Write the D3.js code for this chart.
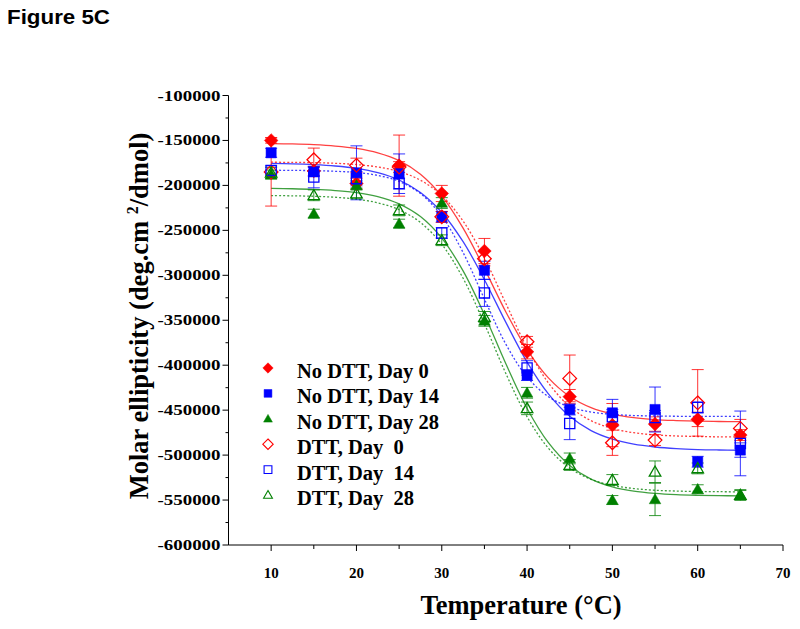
<!DOCTYPE html>
<html><head><meta charset="utf-8">
<script src="https://cdn.jsdelivr.net/npm/d3@7"></script>
<style>html,body{margin:0;padding:0;background:#fff;}svg{display:block;}</style>
</head><body>
<script>
// ---- data ----
const temps = [10, 15, 20, 25, 30, 35, 40, 45, 50, 55, 60, 65];
const noDTTDay0  = [-150000, -184000, -198000, -178000, -209000, -273000, -385000, -435000, -466600, -465500, -460300, -477700];
const noDTTDay0Err = [3000, 5000, 6000, 34000, 9000, 14000, 8000, 8000, 24000, 8000, 8000, 6000];
const noDTTDay14 = [-163700, -185000, -186000, -187000, -235000, -294400, -411000, -449300, -453000, -449300, -507400, -494400];
const noDTTDay14Err = [5000, 5000, 30000, 22000, 6000, 10000, 6000, 6000, 15000, 25000, 6000, 8000];
const noDTTDay28 = [-188000, -231500, -200000, -242600, -219600, -350700, -430700, -503700, -550000, -549300, -538000, -544400];
const noDTTDay28Err = [5000, 5000, 5000, 5000, 6000, 6000, 6000, 6000, 5000, 18000, 5000, 5000];
const dttDay0  = [-185000, -171500, -177700, -179600, -235000, -281500, -374000, -414700, -486300, -483300, -441900, -470300];
const dttDay0Err = [38000, 13000, 8000, 6000, 6000, 8000, 6000, 26000, 14000, 6000, 37000, 10000];
const dttDay14 = [-183300, -190700, -192500, -198000, -253000, -319600, -403000, -464800, -457400, -458300, -447000, -487000];
const dttDay14Err = [5000, 12000, 8000, 6000, 6000, 15000, 8000, 18000, 8000, 8000, 6000, 36000];
const dttDay28 = [-186000, -211000, -209000, -227800, -261000, -346300, -448000, -511000, -527700, -518500, -514800, -544400];
const dttDay28Err = [6000, 6000, 6000, 6000, 6000, 6000, 7000, 6000, 6000, 12000, 6000, 6000];

// fitted curves
const fitTemps = [10, 12.5, 15, 17.5, 20, 22.5, 25, 27.5, 30, 32.5, 35, 37.5, 40, 42.5, 45, 47.5, 50, 52.5, 55, 57.5, 60, 62.5, 65];
const fitNoDTTDay0  = [-153500, -153900, -154700, -156200, -158900, -163800, -172500, -187600, -211900, -247500, -292600, -340500, -382600, -414100, -434800, -447200, -454300, -458300, -460500, -461600, -462300, -462600, -462800];
const fitNoDTTDay14 = [-175600, -176000, -176900, -178400, -181000, -185800, -194000, -207900, -230100, -262600, -304900, -352100, -396500, -431900, -456900, -472800, -482300, -487900, -491000, -492800, -493800, -494300, -494600];
const fitNoDTTDay28 = [-203400, -203700, -204400, -205700, -208000, -212400, -220500, -234700, -258600, -295100, -343800, -398200, -448100, -486200, -511500, -526700, -535300, -540100, -542600, -544000, -544700, -545100, -545300];
const fitDTTDay0  = [-174200, -174400, -174700, -175400, -176800, -179500, -184600, -194200, -211300, -239700, -280900, -331100, -380500, -419700, -446100, -461700, -470400, -475100, -477500, -478700, -479300, -479700, -479800];
const fitDTTDay14 = [-183100, -183300, -183600, -184300, -185700, -188900, -195600, -209100, -234300, -274700, -326400, -376400, -413100, -435000, -446500, -452100, -454700, -456000, -456500, -456800, -456900, -457000, -457000];
const fitDTTDay28 = [-211300, -211600, -212100, -213200, -215300, -219400, -227100, -241200, -265500, -303300, -353900, -409000, -457400, -492400, -514300, -526900, -533700, -537200, -539100, -540000, -540500, -540700, -540900];

const xTicks = [10, 20, 30, 40, 50, 60, 70];
const xMinorTicks = [15, 25, 35, 45, 55, 65];
const yTicks = [-100000, -150000, -200000, -250000, -300000, -350000, -400000, -450000, -500000, -550000, -600000];
const yMinorTicks = [-125000, -175000, -225000, -275000, -325000, -375000, -425000, -475000, -525000, -575000];
const seriesNames = ["No DTT, Day 0", "No DTT, Day 14", "No DTT, Day 28", "DTT, Day\u00a0 0", "DTT, Day\u00a0 14", "DTT, Day\u00a0 28"];

// ---- drawing ----
const W = 800, H = 629;
const svg = d3.select("body").append("svg").attr("width", W).attr("height", H);
const x = d3.scaleLinear().domain([5, 70]).range([228.5, 783]);
const y = d3.scaleLinear().domain([-600000, -100000]).range([545, 95.5]);

const RED = "#ff0000", BLUE = "#0000ff", GREEN = "#008000";
const series = [
  {name: seriesNames[0], vals: noDTTDay0, err: noDTTDay0Err, fit: fitNoDTTDay0, color: RED, shape: "diamond", filled: true, dash: null},
  {name: seriesNames[1], vals: noDTTDay14, err: noDTTDay14Err, fit: fitNoDTTDay14, color: BLUE, shape: "square", filled: true, dash: null},
  {name: seriesNames[2], vals: noDTTDay28, err: noDTTDay28Err, fit: fitNoDTTDay28, color: GREEN, shape: "triangle", filled: true, dash: null},
  {name: seriesNames[3], vals: dttDay0, err: dttDay0Err, fit: fitDTTDay0, color: RED, shape: "diamond", filled: false, dash: "2,2"},
  {name: seriesNames[4], vals: dttDay14, err: dttDay14Err, fit: fitDTTDay14, color: BLUE, shape: "square", filled: false, dash: "2,2"},
  {name: seriesNames[5], vals: dttDay28, err: dttDay28Err, fit: fitDTTDay28, color: GREEN, shape: "triangle", filled: false, dash: "2,2"}
];

function shapePath(shape, s) {
  if (shape === "diamond") return `M0,${-s}L${s},0L0,${s}L${-s},0Z`;
  if (shape === "square") { const h = s * 0.75; return `M${-h},${-h}H${h}V${h}H${-h}Z`; }
  const h = s * 0.85; return `M0,${-h}L${h},${h*0.75}L${-h},${h*0.75}Z`;
}

const serif = "'Liberation Serif','Times New Roman',Times,serif";

// title
svg.append("text").attr("x", 7).attr("y", 24)
  .attr("font-family", "'Liberation Sans',Arial,sans-serif").attr("font-weight", "bold")
  .attr("font-size", 20).attr("textLength", 103).attr("lengthAdjust", "spacingAndGlyphs")
  .text("Figure 5C");

// axes
const xAxisY = y(-600000), yAxisX = x(5);
const ax = svg.append("g").attr("stroke", "#000").attr("stroke-width", 1).attr("fill", "none");
ax.append("line").attr("x1", yAxisX).attr("x2", yAxisX).attr("y1", y(-100000)).attr("y2", xAxisY);
ax.append("line").attr("x1", yAxisX).attr("x2", x(70)).attr("y1", xAxisY).attr("y2", xAxisY);
yTicks.forEach(t => ax.append("line").attr("x1", yAxisX - 6).attr("x2", yAxisX).attr("y1", y(t)).attr("y2", y(t)));
yMinorTicks.forEach(t => ax.append("line").attr("x1", yAxisX - 3).attr("x2", yAxisX).attr("y1", y(t)).attr("y2", y(t)));
xTicks.forEach(t => ax.append("line").attr("x1", x(t)).attr("x2", x(t)).attr("y1", xAxisY).attr("y2", xAxisY + 6));
xMinorTicks.forEach(t => ax.append("line").attr("x1", x(t)).attr("x2", x(t)).attr("y1", xAxisY).attr("y2", xAxisY + 4));

svg.append("g").selectAll("text").data(yTicks).join("text")
  .attr("x", yAxisX - 8).attr("y", d => y(d) + 5).attr("text-anchor", "end")
  .attr("font-family", serif).attr("font-weight", "bold").attr("font-size", 15)
  .attr("textLength", 63).attr("lengthAdjust", "spacingAndGlyphs")
  .text(d => "-" + Math.abs(d));
svg.append("g").selectAll("text").data(xTicks).join("text")
  .attr("x", d => x(d)).attr("y", 578).attr("text-anchor", "middle")
  .attr("font-family", serif).attr("font-weight", "bold").attr("font-size", 15)
  .text(d => d);

// axis titles
svg.append("text").attr("x", 521).attr("y", 614).attr("text-anchor", "middle")
  .attr("font-family", serif).attr("font-weight", "bold").attr("font-size", 26.5)
  .text("Temperature (\u00b0C)");
const yt = svg.append("text").attr("transform", "translate(148,316) rotate(-90)").attr("text-anchor", "middle")
  .attr("font-family", serif).attr("font-weight", "bold").attr("font-size", 26.5);
yt.append("tspan").text("Molar ellipticity (deg.cm ");
yt.append("tspan").attr("font-size", 16).attr("dy", -10).text("2");
yt.append("tspan").attr("dy", 10).text("/dmol)");

// fit lines
const line = d3.line().x((d, i) => x(fitTemps[i])).y(d => y(d)).curve(d3.curveCatmullRom);
series.forEach(s => {
  svg.append("path").attr("d", line(s.fit)).attr("fill", "none").attr("stroke", s.color)
    .attr("stroke-width", 1.3).attr("stroke-opacity", 0.75)
    .attr("stroke-dasharray", s.dash);
});

// error bars
series.forEach(s => {
  const g = svg.append("g").attr("stroke", s.color).attr("stroke-width", 1).attr("stroke-opacity", 0.8);
  s.vals.forEach((v, i) => {
    const cx = x(temps[i]), y1 = y(v + s.err[i]), y2 = y(v - s.err[i]);
    g.append("line").attr("x1", cx).attr("x2", cx).attr("y1", y1).attr("y2", y2);
    g.append("line").attr("x1", cx - 6).attr("x2", cx + 6).attr("y1", y1).attr("y2", y1);
    g.append("line").attr("x1", cx - 6).attr("x2", cx + 6).attr("y1", y2).attr("y2", y2);
  });
});

// markers
series.forEach(s => {
  svg.append("g").selectAll("path").data(s.vals).join("path")
    .attr("transform", (d, i) => `translate(${x(temps[i])},${y(d)})`)
    .attr("d", shapePath(s.shape, 6.8))
    .attr("fill", s.filled ? s.color : "none")
    .attr("stroke", s.color).attr("stroke-width", s.filled ? 0.5 : 1.3);
});

// legend
const lg = svg.append("g");
series.forEach((s, i) => {
  const ly = 368 + i * 25.4;
  lg.append("path").attr("transform", `translate(268,${ly})`).attr("d", shapePath(s.shape, 5.2))
    .attr("fill", s.filled ? s.color : "none").attr("stroke", s.color).attr("stroke-width", s.filled ? 0.5 : 1.1);
  lg.append("text").attr("x", 297).attr("y", ly + 10)
    .attr("font-family", serif).attr("font-weight", "bold").attr("font-size", 20.5)
    .text(s.name);
});
</script>
</body></html>
